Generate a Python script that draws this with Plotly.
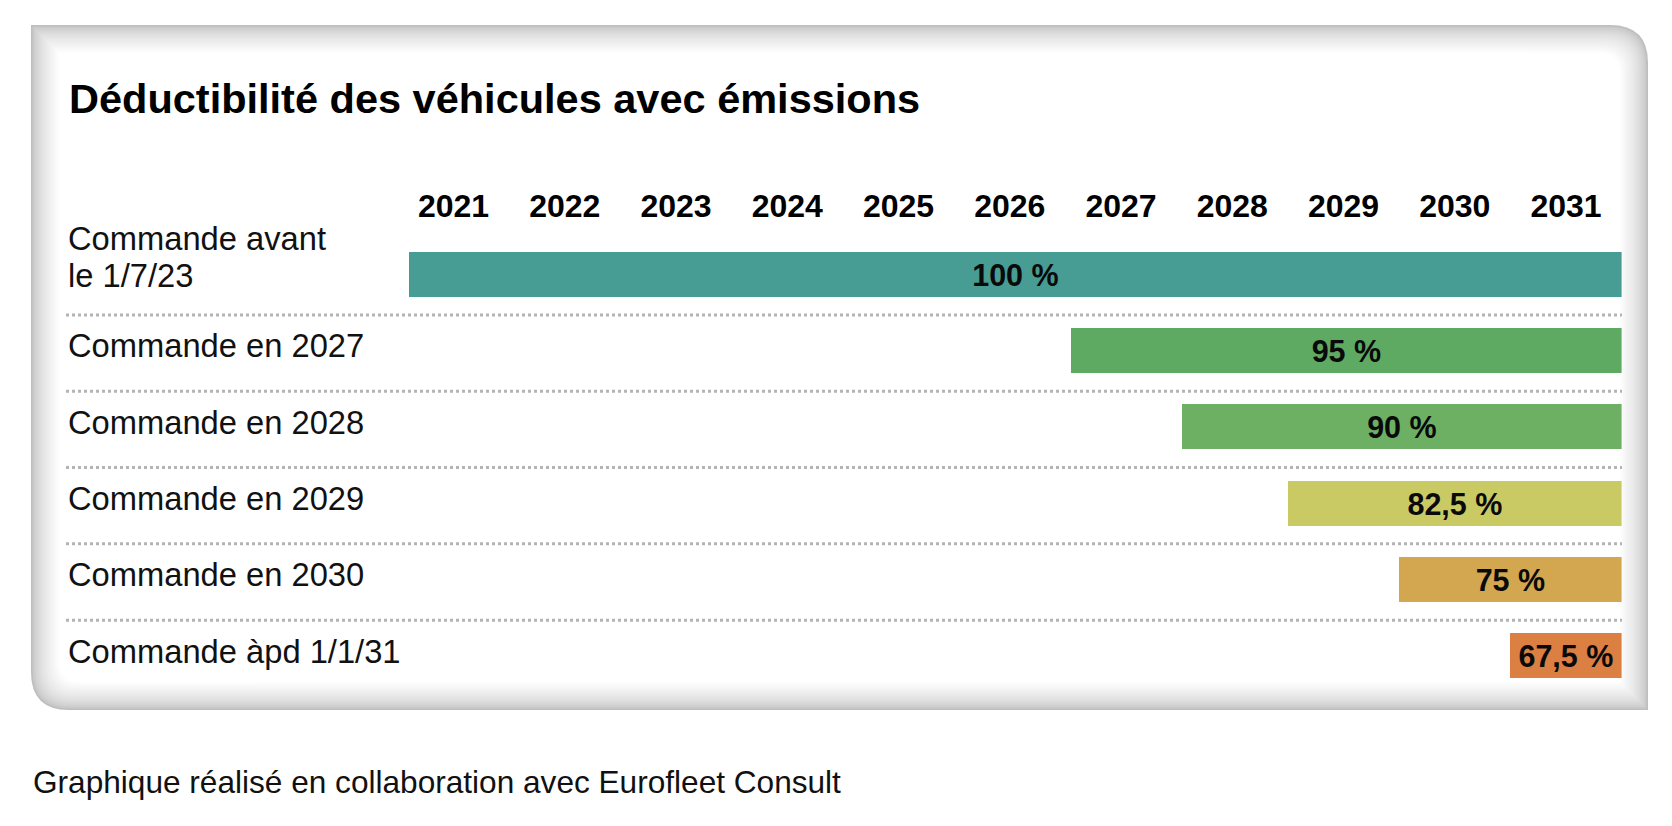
import plotly.graph_objects as go

# ---------------- data ----------------
categories = [
    "Commande avant\nle 1/7/23",
    "Commande en 2027",
    "Commande en 2028",
    "Commande en 2029",
    "Commande en 2030",
    "Commande àpd 1/1/31",
]
deductibility = [100, 95, 90, 82.5, 75, 67.5]
start_year = [2020.6, 2026.55, 2027.55, 2028.5, 2029.5, 2030.5]
end_year = [2031.5, 2031.5, 2031.5, 2031.5, 2031.5, 2031.5]
years = [2021, 2022, 2023, 2024, 2025, 2026, 2027, 2028, 2029, 2030, 2031]
bar_colors = ["#479C93", "#5FAA62", "#6DB064", "#CACA65", "#D2A74F", "#DC7F43"]
title_text = "Déductibilité des véhicules avec émissions"
footnote_text = "Graphique réalisé en collaboration avec Eurofleet Consult"

# ---------------- layout constants ----------------
# the page body has a default 8px margin: size the figure to fit the window
OFF = 8
W, H = 1672 - 2 * OFF, 826 - 2 * OFF
BOLD = "Liberation Sans, Arial, sans-serif"
LIGHT = "Liberation Sans, Arial, sans-serif"


def px(x):
    return (x - OFF) / W


def py(y):
    return 1 - (y - OFF) / H


rows = list(range(len(categories)))
widths = [e - s for s, e in zip(start_year, end_year)]
bar_text = [("%g" % v).replace(".", ",") + " %" for v in deductibility]

fig = go.Figure()
fig.add_trace(
    go.Bar(
        orientation="h",
        y=rows,
        x=widths,
        base=start_year,
        width=0.59,
        marker=dict(color=bar_colors, line=dict(width=0)),
        text=bar_text,
        textposition="inside",
        insidetextanchor="middle",
        textangle=0,
        textfont=dict(family=BOLD, size=30.5, color="#0a0a0a", weight="bold"),
        hoverinfo="skip",
        cliponaxis=False,
    )
)

# ---------------- panel with inner shadow ----------------
def rounded_path(x0, y0, x1, y1, r_tr, r_bl):
    r_tr = max(r_tr, 0.1)
    r_bl = max(r_bl, 0.1)
    pts = [
        f"M {px(x0)},{py(y0)}",
        f"L {px(x1 - r_tr)},{py(y0)}",
        f"Q {px(x1)},{py(y0)} {px(x1)},{py(y0 + r_tr)}",
        f"L {px(x1)},{py(y1)}",
        f"L {px(x0 + r_bl)},{py(y1)}",
        f"Q {px(x0)},{py(y1)} {px(x0)},{py(y1 - r_bl)}",
        "Z",
    ]
    return " ".join(pts)


shapes = []
PX0, PY0, PX1, PY1, RAD = 31, 25, 1648, 710, 38
steps = 18
depth = 28.0
for k in range(steps + 1):
    t = k / steps
    d = depth * t
    g = int(round(190 + (255 - 190) * (t ** 0.6)))
    col = f"rgb({g},{g},{g})"
    shapes.append(
        dict(
            type="path",
            xref="paper",
            yref="paper",
            path=rounded_path(PX0 + d, PY0 + d, PX1 - d, PY1 - d, RAD - d * 0.6, RAD - d * 0.6),
            fillcolor=col,
            line=dict(width=0),
            layer="below",
        )
    )

# dotted separators between rows
for i in rows[:-1]:
    shapes.append(
        dict(
            type="line",
            xref="paper",
            yref="y",
            x0=px(66),
            x1=px(1622),
            y0=i + 0.53,
            y1=i + 0.53,
            line=dict(color="#b4b4b4", width=3, dash="dot"),
            layer="above",
        )
    )

# ---------------- annotations ----------------
annotations = [
    dict(
        text=title_text,
        xref="paper",
        yref="paper",
        x=px(67),
        y=py(98),
        xanchor="left",
        yanchor="middle",
        showarrow=False,
        font=dict(family=BOLD, size=41.5, color="#000000", weight="bold"),
    ),
    dict(
        text=footnote_text,
        xref="paper",
        yref="paper",
        x=px(31),
        y=py(781.5),
        xanchor="left",
        yanchor="middle",
        showarrow=False,
        font=dict(family=LIGHT, size=31.6, color="#111111"),
    ),
]

for i, label in enumerate(categories):
    lines = label.split("\n")
    n = len(lines)
    for k, line in enumerate(lines):
        shift = 5 + (n - 1) * 13 + ((n - 1) / 2 - k) * 37
        annotations.append(
            dict(
                text=line,
                xref="paper",
                yref="y",
                x=px(66),
                y=i,
                yshift=shift,
                xanchor="left",
                yanchor="middle",
                showarrow=False,
                font=dict(family=LIGHT, size=32.7, color="#111111"),
            )
        )

fig.update_layout(
    width=W,
    height=H,
    autosize=False,
    margin=dict(l=0, r=0, t=0, b=0, pad=0),
    paper_bgcolor="white",
    plot_bgcolor="rgba(0,0,0,0)",
    showlegend=False,
    bargap=0,
    shapes=shapes,
    annotations=annotations,
    uniformtext=dict(minsize=30, mode="show"),
    xaxis=dict(
        domain=[px(397.9), px(1621.6)],
        range=[2020.5, 2031.5],
        side="top",
        tickmode="array",
        tickvals=years,
        ticktext=[str(y) for y in years],
        tickfont=dict(family=BOLD, size=32, color="#000000", weight="bold"),
        ticks="",
        showgrid=False,
        zeroline=False,
        showline=False,
        fixedrange=True,
        ticklabelstandoff=12,
    ),
    yaxis=dict(
        domain=[py(694.15), py(236.35)],
        range=[5.5, -0.5],
        visible=False,
        showgrid=False,
        zeroline=False,
        fixedrange=True,
    ),
)

fig.write_html("out.html")
